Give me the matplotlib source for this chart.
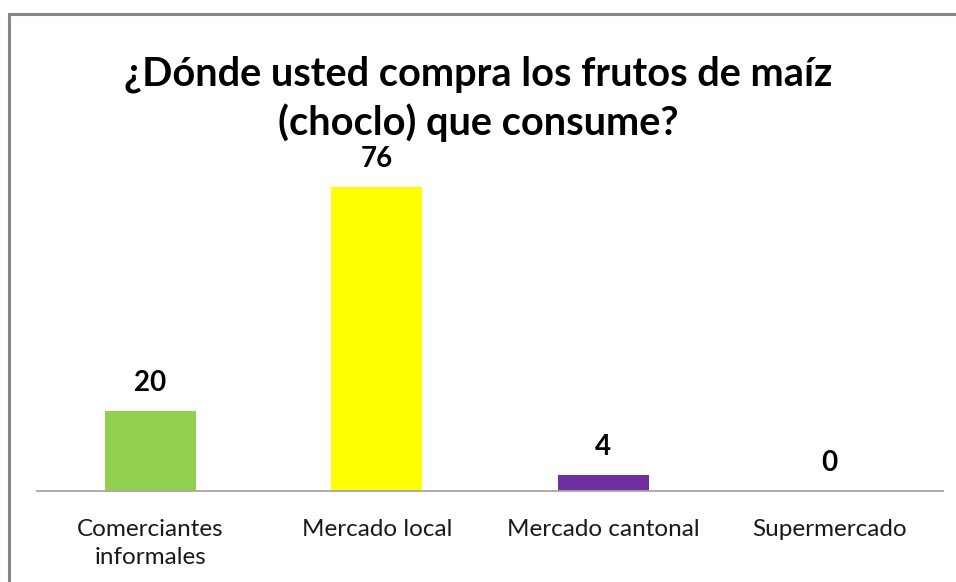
import matplotlib
matplotlib.use("Agg")
import matplotlib.pyplot as plt
from matplotlib.patches import Rectangle

categories = ["Comerciantes\ninformales", "Mercado local", "Mercado cantonal", "Supermercado"]
values = [20, 76, 4, 0]
colors = ["#92D050", "#FFFF00", "#7030A0", "#4472C4"]
title = "¿Dónde usted compra los frutos de maíz\n(choclo) que consume?"

plt.rcParams["font.family"] = ["Lato", "DejaVu Sans"]

W, H = 956, 582
fig = plt.figure(figsize=(W / 100, H / 100), dpi=100)

# outer chart frame
fig.patches.append(Rectangle((9 / W, -0.05), 1.2, (H - 14) / H + 0.05,
                             transform=fig.transFigure, fill=False,
                             edgecolor="#878787", linewidth=2.2))

ax = fig.add_axes([37 / W, (H - 491) / H, (943 - 37) / W, 0.55])
x = range(len(categories))
ax.bar(x, values, width=0.4, color=colors)
ax.set_xlim(-0.5, len(categories) - 0.5)
ax.set_ylim(0, 80)

for xi, v in zip(x, values):
    ax.annotate(str(v), (xi, v), xytext=(0, 11), textcoords="offset points",
                ha="center", va="bottom", fontsize=20, fontweight="bold")

for s in ["top", "right", "left"]:
    ax.spines[s].set_visible(False)
ax.spines["bottom"].set_color("#A6A6A6")
ax.spines["bottom"].set_linewidth(1.3)
ax.set_yticks([])
ax.set_xticks(list(x))
ax.set_xticklabels(categories, fontsize=17.5, color="#1a1a1a", linespacing=1.45)
ax.tick_params(axis="x", length=0, pad=20)

fig.text(0.5, (H - 99) / H, title, ha="center", va="center",
         fontsize=28.6, fontweight="bold", linespacing=1.32)

fig.savefig("out.png", dpi=100, facecolor="white")
